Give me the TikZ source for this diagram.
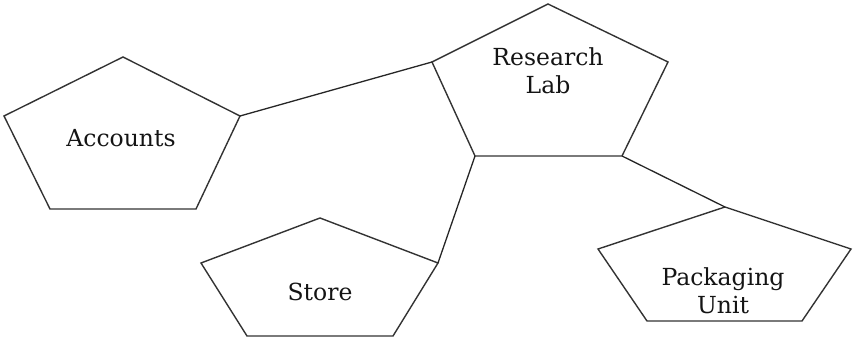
\documentclass[tikz,border=0pt]{standalone}
\usepackage{fontspec}
\setmainfont{DejaVu Serif}
\begin{document}
\begin{tikzpicture}[x=1pt,y=-1pt,
  pent/.style={draw=black!80,line width=1.4pt,line join=miter},
  link/.style={draw=black!85,line width=1.3pt},
  lbl/.style={font=\fontsize{23.5}{28}\selectfont,text=black!92,align=center,inner sep=0pt}]
\useasboundingbox (0,0) rectangle (854,344);
% Accounts
\coordinate (a1) at (123,57);
\coordinate (a2) at (240,116);
\coordinate (a3) at (196,209);
\coordinate (a4) at (50,209);
\coordinate (a5) at (4,116);
\draw[pent] (a1)--(a2)--(a3)--(a4)--(a5)--cycle;
\node[lbl] (acc) at (121,138) {Accounts};
% Research Lab
\coordinate (r1) at (548,4);
\coordinate (r2) at (668,62);
\coordinate (r3) at (622,156);
\coordinate (r4) at (475,156);
\coordinate (r5) at (432,62);
\draw[pent] (r1)--(r2)--(r3)--(r4)--(r5)--cycle;
\node[lbl] (lab) at (548,71) {Research\\[0pt]Lab};
% Store
\coordinate (s1) at (320,218);
\coordinate (s2) at (438,263);
\coordinate (s3) at (393,336);
\coordinate (s4) at (247,336);
\coordinate (s5) at (201,263);
\draw[pent] (s1)--(s2)--(s3)--(s4)--(s5)--cycle;
\node[lbl] (sto) at (320,292) {Store};
% Packaging Unit
\coordinate (p1) at (725,207);
\coordinate (p2) at (851,249);
\coordinate (p3) at (802,321);
\coordinate (p4) at (647,321);
\coordinate (p5) at (598,249);
\draw[pent] (p1)--(p2)--(p3)--(p4)--(p5)--cycle;
\node[lbl] (pkg) at (723,291) {Packaging\\[0pt]Unit};
% connectors
\draw[link] (a2) -- (r5);
\draw[link] (r4) -- (s2);
\draw[link] (r3) -- (p1);
\end{tikzpicture}
\end{document}
